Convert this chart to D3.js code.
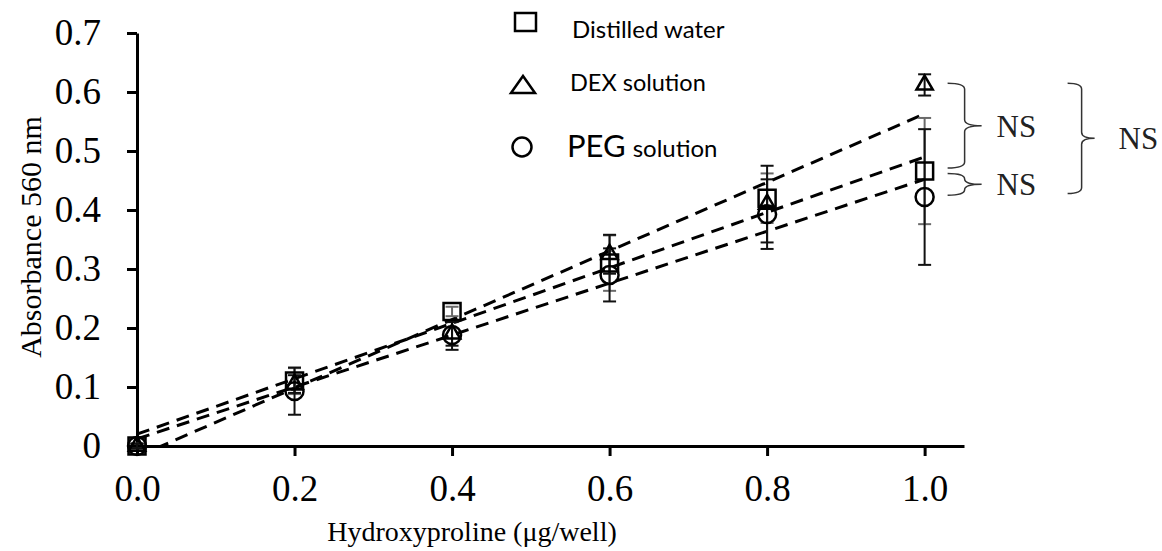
<!DOCTYPE html>
<html><head><meta charset="utf-8">
<script src="https://cdn.jsdelivr.net/npm/d3@7"></script>
<style>body{margin:0;background:#fff}</style>
</head><body><svg id="c" width="1162" height="551"></svg>
<script>
// ---- data ----
const xValues = [0, 0.2, 0.4, 0.6, 0.8, 1.0];
const xTickValues = [0, 0.2, 0.4, 0.6, 0.8, 1.0];
const xTickLabels = ["0.0", "0.2", "0.4", "0.6", "0.8", "1.0"];
const yTickValues = [0, 0.1, 0.2, 0.3, 0.4, 0.5, 0.6, 0.7];
const yTickLabels = ["0", "0.1", "0.2", "0.3", "0.4", "0.5", "0.6", "0.7"];
const seriesNames = ["Distilled water", "DEX solution", "PEG solution"];
const seriesSymbols = ["square", "triangle", "circle"];
const distilledWater    = [0, 0.110, 0.228, 0.310, 0.420, 0.466];
const distilledWaterErr = [0.004, 0.022, 0.008, 0.047, 0.042, 0.090];
const dexSolution       = [0, 0.105, 0.190, 0.325, 0.410, 0.612];
const dexSolutionErr    = [0.004, 0.015, 0.020, 0.033, 0.065, 0.018];
const pegSolution       = [0, 0.093, 0.188, 0.290, 0.393, 0.422];
const pegSolutionErr    = [0.004, 0.040, 0.025, 0.045, 0.059, 0.115];
// linear trendlines: value at x=0 and at x=1.0
const fitStart = [0.020, -0.018, 0.012];
const fitEnd   = [0.490, 0.563, 0.452];
// significance brackets (data units)
const bracketLabels = ["NS", "NS", "NS"];
const bracketTop    = [0.615, 0.462, 0.615];
const bracketBottom = [0.471, 0.425, 0.428];
const bracketLevel  = [0, 0, 1];

const seriesValues = [distilledWater, dexSolution, pegSolution];
const seriesErrors = [distilledWaterErr, dexSolutionErr, pegSolutionErr];
const errColors = ["#6a6a6a", "#111", "#111"];

// ---- layout ----
const svg = d3.select("#c");
const x = d3.scaleLinear().domain([0, 1.05]).range([137, 964]);
const y = d3.scaleLinear().domain([0, 0.7]).range([446, 33]);
const serif = "'Liberation Serif','Times New Roman',serif";
const sans = "Lato,'Open Sans','Liberation Sans',sans-serif";

svg.append("defs").append("clipPath").attr("id", "plot")
  .append("rect").attr("x", x(0)).attr("y", y(0.7) - 20)
  .attr("width", x(1.05) - x(0)).attr("height", y(0) - y(0.7) + 20);

// axes
const yAxis = d3.axisLeft(y).tickValues(yTickValues)
  .tickFormat((d, i) => yTickLabels[i]).tickSize(10).tickSizeOuter(0).tickPadding(26);
const gy = svg.append("g").attr("transform", `translate(${x(0)},0)`).call(yAxis);
gy.select(".domain").attr("stroke", "#000").attr("stroke-width", 3);
gy.selectAll(".tick line").attr("stroke", "#000").attr("stroke-width", 3);
gy.selectAll(".tick text").attr("font-family", serif).attr("font-size", 37).attr("fill", "#000");

const xAxis = d3.axisBottom(x).tickValues(xTickValues)
  .tickFormat((d, i) => xTickLabels[i]).tickSize(10).tickSizeOuter(0).tickPadding(19);
const gx = svg.append("g").attr("transform", `translate(0,${y(0)})`).call(xAxis);
gx.select(".domain").attr("stroke", "#000").attr("stroke-width", 3);
gx.selectAll(".tick line").attr("stroke", "#000").attr("stroke-width", 3);
gx.selectAll(".tick text").attr("font-family", serif).attr("font-size", 37).attr("fill", "#000");

// titles
svg.append("text").attr("x", 472).attr("y", 541).attr("text-anchor", "middle")
  .attr("font-family", serif).attr("font-size", 28).text("Hydroxyproline (μg/well)");
svg.append("text").attr("transform", "translate(41,237) rotate(-90)").attr("text-anchor", "middle")
  .attr("font-family", serif).attr("font-size", 30).text("Absorbance 560 nm");

// trendlines
const fits = svg.append("g").attr("clip-path", "url(#plot)");
seriesNames.forEach((n, i) => {
  fits.append("line")
    .attr("x1", x(0)).attr("y1", y(fitStart[i]))
    .attr("x2", x(1.0)).attr("y2", y(fitEnd[i]))
    .attr("stroke", "#000").attr("stroke-width", 3).attr("stroke-dasharray", "13,8");
});

// error bars
const capW = 13;
seriesValues.forEach((vals, i) => {
  const g = svg.append("g").attr("stroke", errColors[i]).attr("stroke-width", 2).attr("fill", "none");
  vals.forEach((v, j) => {
    const e = seriesErrors[i][j];
    const cx = x(xValues[j]);
    g.append("line").attr("x1", cx).attr("x2", cx).attr("y1", y(v + e)).attr("y2", y(v - e));
    [v + e, v - e].forEach(t => g.append("line")
      .attr("x1", cx - capW / 2).attr("x2", cx + capW / 2).attr("y1", y(t)).attr("y2", y(t)));
  });
});

// markers
const symType = { square: d3.symbolSquare, triangle: d3.symbolTriangle, circle: d3.symbolCircle };
const symSize = { square: 289, triangle: 115, circle: 254 };
seriesValues.forEach((vals, i) => {
  const s = seriesSymbols[i];
  svg.append("g").selectAll("path").data(vals).join("path")
    .attr("transform", (d, j) => `translate(${x(xValues[j])},${y(d)})`)
    .attr("d", d3.symbol(symType[s], symSize[s]))
    .attr("fill", "none").attr("stroke", "#000").attr("stroke-width", 2.5);
});

// legend
const leg = svg.append("g");
leg.append("rect").attr("x", 515).attr("y", 13).attr("width", 21).attr("height", 18)
  .attr("fill", "none").attr("stroke", "#000").attr("stroke-width", 2.5);
leg.append("path").attr("d", "M511,93 L535,93 L523,76 Z")
  .attr("fill", "none").attr("stroke", "#000").attr("stroke-width", 2.5);
leg.append("circle").attr("cx", 522).attr("cy", 147).attr("r", 9.5)
  .attr("fill", "none").attr("stroke", "#000").attr("stroke-width", 2.5);
leg.append("text").attr("x", 572).attr("y", 38).attr("font-family", sans).attr("font-size", 24)
  .text(seriesNames[0]);
leg.append("text").attr("x", 570).attr("y", 91).attr("font-family", sans).attr("font-size", 23.5)
  .text(seriesNames[1]);
const pegParts = seriesNames[2].split(" ");
const pt = leg.append("text").attr("x", 567).attr("y", 157).attr("font-family", sans);
pt.append("tspan").attr("font-size", 31).text(pegParts[0]);
pt.append("tspan").attr("font-size", 24).attr("dx", 7).text(pegParts[1]);

// significance brackets
function brace(x0, xv, xt, y0, y1) {
  const ym = (y0 + y1) / 2, r = Math.min(6, (y1 - y0) / 4);
  return `M${x0},${y0} Q${xv},${y0} ${xv},${y0 + r} L${xv},${ym - r} Q${xv},${ym} ${xt},${ym}` +
         ` Q${xv},${ym} ${xv},${ym + r} L${xv},${y1 - r} Q${xv},${y1} ${x0},${y1}`;
}
const bx = x(1.0);
const levelOffsets = [[23, 40, 57, 72], [143, 157, 170, 194]];
bracketLabels.forEach((lab, i) => {
  const o = levelOffsets[bracketLevel[i]];
  const y0 = y(bracketTop[i]), y1 = y(bracketBottom[i]);
  svg.append("path").attr("d", brace(bx + o[0], bx + o[1], bx + o[2], y0, y1))
    .attr("fill", "none").attr("stroke", "#333").attr("stroke-width", 1.5);
  svg.append("text").attr("x", bx + o[3]).attr("y", (y0 + y1) / 2 + 11)
    .attr("font-family", serif).attr("font-size", 31).attr("fill", "#222").text(lab);
});
</script></body></html>
